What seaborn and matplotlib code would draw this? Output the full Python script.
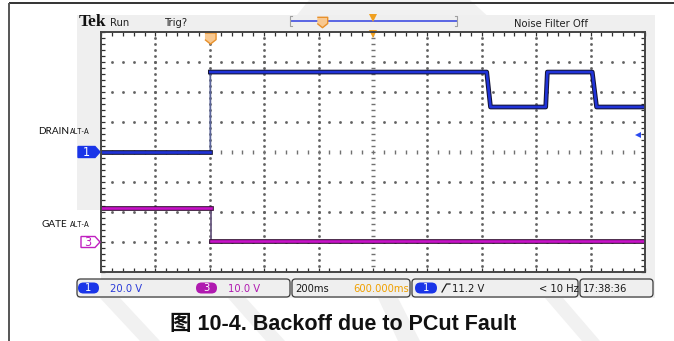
import numpy as np
import pandas as pd
import matplotlib
matplotlib.use("Agg")
import matplotlib.pyplot as plt
import seaborn as sns
from matplotlib import patheffects as pe
from matplotlib.patches import Rectangle, FancyBboxPatch, Polygon
from matplotlib.transforms import blended_transform_factory

# ---- waveform data (time in ms relative to trigger, volts) ----
drain_t = [-400, 2, 2, 1018, 1032, 1235, 1241, 1406, 1422, 1600]
drain_v = [0.0, 0.0, 53.3, 53.3, 30.0, 30.0, 53.3, 53.3, 30.0, 30.0]

gate_t = [-400, 4, 4, 1600]
gate_v = [11.4, 11.4, 0.2, 0.2]

# ---- scope settings ----
ch1_scale = 20.0        # V/div
ch3_scale = 10.0        # V/div
ch1_ground_div = 4      # divisions above bottom graticule
ch3_ground_div = 1
time_per_div = 200      # ms/div
trigger_div = 2         # trigger point, divisions from the left
trigger_level = 11.2    # V on channel 1
n_xdiv, n_ydiv = 10, 8

ch1_label = "20.0 V"
ch3_label = "10.0 V"
timebase_label = "200ms"
hpos_label = "600.000ms"
trig_label = "11.2 V"
freq_label = "< 10 Hz"
clock_label = "17:38:36"
caption = "图 10-4. Backoff due to PCut Fault"

W, H = 674, 341
fig = plt.figure(figsize=(W / 100, H / 100), dpi=100)
fig.patch.set_facecolor("white")

SCOPE_FONT = dict(family="DejaVu Sans", fontstretch="condensed")

# background layer in pixel coordinates
bg = fig.add_axes([0, 0, 1, 1], zorder=0)
bg.set_xlim(0, W)
bg.set_ylim(H, 0)
bg.axis("off")

# faint watermark shapes
wm = "#f1f1f1"
for poly in [
    [(309, 0), (470, 0), (492, 20), (293, 20)],
    [(100, 298), (120, 298), (160, 341), (140, 341)],
    [(228, 298), (246, 298), (285, 341), (266, 341)],
    [(378, 298), (398, 298), (420, 341), (398, 341)],
    [(545, 298), (563, 298), (600, 341), (582, 341)],
]:
    bg.add_patch(Polygon(poly, closed=True, facecolor=wm, edgecolor="none"))

# scope screen panel
bg.add_patch(Rectangle((77, 15), 578, 283, facecolor="#efefef", edgecolor="none"))
bg.add_patch(Rectangle((77, 210), 24, 69, facecolor="white", edgecolor="none"))

# ---- graticule axes ----
gl, gr, gt, gb = 101, 645, 32, 272
ax = fig.add_axes([gl / W, 1 - gb / H, (gr - gl) / W, (gb - gt) / H], zorder=1)
ax.set_facecolor("white")
x0 = -trigger_div * time_per_div
x1 = (n_xdiv - trigger_div) * time_per_div
ax.set_xlim(x0, x1)
ax.set_ylim(0, n_ydiv)

# dotted graticule
xc = x0 + n_xdiv / 2 * time_per_div
yc = n_ydiv / 2
xsub = np.arange(x0, x1 + 1e-6, time_per_div / 5)
ysub = np.arange(0, n_ydiv + 1e-6, 0.2)
dot = dict(linestyle="none", marker="s", markersize=0.9, color="#606060")
for k in range(1, n_xdiv):
    xv = x0 + k * time_per_div
    if np.isclose(xv, xc):
        continue
    ax.plot(np.full(len(ysub) - 2, xv), ysub[1:-1], **dot)
for k in range(1, n_ydiv):
    if k == yc:
        continue
    ax.plot(xsub[1:-1], np.full(len(xsub) - 2, k), **dot)
# centre cross with small tick dashes
ax.plot(np.full(len(ysub) - 2, xc), ysub[1:-1], linestyle="none", marker="_",
        markersize=3.2, markeredgewidth=1.0, color="#707070")
ax.plot(xsub[1:-1], np.full(len(xsub) - 2, yc), linestyle="none", marker="|",
        markersize=3.2, markeredgewidth=1.0, color="#707070")

ax.set_xticks([])
ax.set_yticks([])
ax.set_xticks(xsub, minor=True)
ax.set_yticks(ysub, minor=True)
ax.tick_params(which="minor", direction="in", length=3, width=0.9, color="#303030",
               top=True, right=True, bottom=True, left=True,
               labelbottom=False, labelleft=False)
for s in ax.spines.values():
    s.set_color("#454545")
    s.set_linewidth(1.4)


# ---- traces ----
def trace_frame(t, v, scale, ground):
    """Waveform in graticule divisions; 'seg' splits at instantaneous edges."""
    seg = [0]
    for i in range(1, len(t)):
        seg.append(seg[-1] + (1 if t[i] == t[i - 1] else 0))
    return pd.DataFrame({"t": t, "div": np.array(v) / scale + ground, "seg": seg})


def draw_trace(df, core, edge, thin):
    # thin full waveform (shows the fast edges), then the thick sampled levels
    sns.lineplot(data=df, x="t", y="div", sort=False, estimator=None,
                 color=thin, linewidth=1.3, ax=ax)
    n0 = len(ax.lines)
    sns.lineplot(data=df, x="t", y="div", units="seg", sort=False, estimator=None,
                 color=core, linewidth=1.9, ax=ax)
    for ln in ax.lines[n0:]:
        ln.set_path_effects([pe.Stroke(linewidth=3.4, foreground=edge), pe.Normal()])


draw_trace(trace_frame(drain_t, drain_v, ch1_scale, ch1_ground_div),
           "#2033d8", "#151535", "#5a6498")
draw_trace(trace_frame(gate_t, gate_v, ch3_scale, ch3_ground_div),
           "#c812c8", "#351035", "#6a5a80")
ax.set_xlabel("")
ax.set_ylabel("")

# trigger position marker and horizontal centre marker
shield = [(-1, 1), (1, 1), (1, -0.2), (0, -1), (-1, -0.2)]
ax.plot([0], [n_ydiv - 0.2], marker=shield, markersize=8, markerfacecolor="#f8c890",
        markeredgecolor="#e8902a", markeredgewidth=1.0, clip_on=False)
ax.plot([xc], [n_ydiv - 0.05], marker="v", markersize=6, color="#f0a020",
        markeredgewidth=0, clip_on=False)
# trigger level arrow on the right edge
ax.plot([x1 - 0.012 * (x1 - x0)], [ch1_ground_div + trigger_level / ch1_scale],
        marker="<", markersize=5, color="#2a4af0", markeredgewidth=0, clip_on=False)

# channel ground markers left of the graticule
bt = blended_transform_factory(ax.transAxes, ax.transData)
wpx = gr - gl


def ch_marker(y, left_px, fc, ec, txt, tc):
    xa = (left_px - gl) / wpx
    xb = -1.0 / wpx
    tip = 5.0 / wpx
    h = 5.5 / 30
    pts = [(xa, y - h), (xb - tip, y - h), (xb, y), (xb - tip, y + h), (xa, y + h)]
    ax.add_patch(Polygon(pts, closed=True, transform=bt, facecolor=fc, edgecolor=ec,
                         linewidth=1.0, clip_on=False, zorder=5))
    ax.text((xa + xb - tip) / 2, y, txt, transform=bt, ha="center", va="center",
            color=tc, fontsize=9, clip_on=False, zorder=6, **SCOPE_FONT)


ch_marker(ch1_ground_div, 78, "#1a35e8", "#1a35e8", "1", "white")
ch_marker(ch3_ground_div, 81, "white", "#c020c0", "3", "#c020c0")

# ---- overlay layer in pixel coordinates ----
ov = fig.add_axes([0, 0, 1, 1], zorder=2)
ov.set_xlim(0, W)
ov.set_ylim(H, 0)
ov.axis("off")
ov.patch.set_alpha(0)

# page rules
ov.plot([9, W], [3, 3], color="#333333", linewidth=1.4, solid_capstyle="butt")
ov.plot([9, 9], [3, H], color="#555555", linewidth=1.4, solid_capstyle="butt")

# header
ov.text(79, 26.5, "Tek", family="Liberation Serif", fontweight="bold", fontsize=12.5,
        color="#111111", va="baseline")
ov.text(110, 26.5, "Run", fontsize=8, color="#222222", va="baseline", **SCOPE_FONT)
ov.text(165, 26.5, "Trig?", fontsize=8, color="#222222", va="baseline", **SCOPE_FONT)
ov.text(514, 27, "Noise Filter Off", fontsize=8, color="#222222", va="baseline", **SCOPE_FONT)
# record position bar
ov.plot([291, 457], [21, 21], color="#3040e0", linewidth=1.1)
for xb_, d in [(290, 1), (457, -1)]:
    ov.plot([xb_ + 2 * d, xb_, xb_, xb_ + 2 * d], [16, 16, 26, 26], color="#a0a0a0",
            linewidth=0.8)
ov.plot([322], [22], marker=shield, markersize=7.5, markerfacecolor="#f8c890",
        markeredgecolor="#e8902a", markeredgewidth=1.0)
ov.plot([373], [17.5], marker="v", markersize=5.5, color="#f0a020", markeredgewidth=0)

# channel names
lab = dict(family="Lato", color="#111111", va="baseline")
ov.text(38, 134, "DRAIN", fontsize=7.2, **lab)
ov.text(69.5, 134, "ALT-A", fontsize=5, **lab)
ov.text(42, 227.3, "GATE", fontsize=7.2, **lab)
ov.text(69.5, 227.3, "ALT-A", fontsize=5, **lab)


# status bar
def box(xl, xr, yt=279, yb=297):
    ov.add_patch(FancyBboxPatch((xl, yt), xr - xl, yb - yt,
                                boxstyle="round,pad=0,rounding_size=3.5",
                                facecolor="#efefef", edgecolor="#3a3a3a", linewidth=0.9))


def pill(xl, xr, color, txt):
    ov.add_patch(FancyBboxPatch((xl, 282.5), xr - xl, 11,
                                boxstyle="round,pad=0,rounding_size=5.5",
                                facecolor=color, edgecolor="none"))
    ov.text((xl + xr) / 2, 288.3, txt, color="white", fontsize=8, ha="center",
            va="center", **SCOPE_FONT)


box(77, 290)
box(292, 410)
box(412, 578)
box(580, 653)
st = dict(fontsize=8, va="baseline", **SCOPE_FONT)
pill(78, 99, "#1a35e8", "1")
ov.text(110, 292, ch1_label, color="#2a3ad8", **st)
pill(196, 217, "#b01ab0", "3")
ov.text(228, 292, ch3_label, color="#b01ab0", **st)
ov.text(295, 292, timebase_label, color="#1a1a1a", **st)
ov.text(353, 292, hpos_label, color="#f0a000", **st)
pill(415, 437, "#1a35e8", "1")
ov.plot([442, 446.5, 450], [292, 284, 284], color="#1a1a1a", linewidth=0.9)
ov.text(452, 292, trig_label, color="#1a1a1a", **st)
ov.text(539, 292, freq_label, color="#1a1a1a", **st)
ov.text(583, 292, clock_label, color="#1a1a1a", **st)

# caption
ov.text(343, 330, caption, ha="center", va="baseline", fontsize=15.5, fontweight="bold",
        family=["Liberation Sans", "Noto Sans CJK SC"], color="#111111")

fig.savefig("out.png", dpi=100)
